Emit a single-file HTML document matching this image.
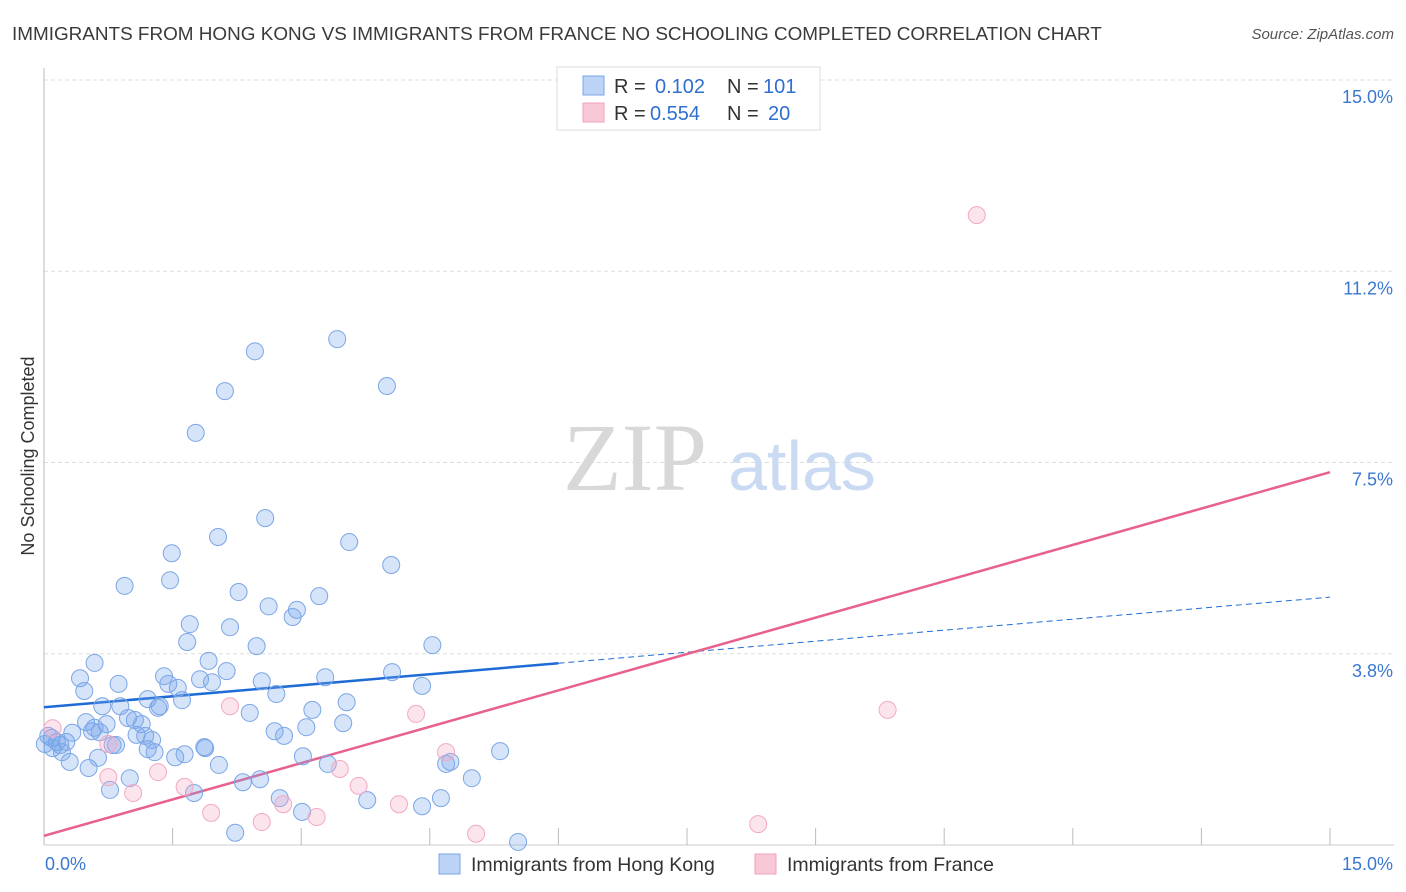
<!DOCTYPE html>
<html><head><meta charset="utf-8">
<style>
body{margin:0;background:#fff;font-family:"Liberation Sans",sans-serif;}
svg{display:block}
</style></head><body>
<svg id="chart" width="1406" height="892">
<text x="12" y="40" font-size="18.9" fill="#3a3a3a">IMMIGRANTS FROM HONG KONG VS IMMIGRANTS FROM FRANCE NO SCHOOLING COMPLETED CORRELATION CHART</text>
<text x="1394" y="39" font-size="15" fill="#555" font-style="italic" text-anchor="end">Source: ZipAtlas.com</text>
<text x="34" y="456" font-size="18" fill="#333" transform="rotate(-90 34 456)" text-anchor="middle">No Schooling Completed</text>
<g id="grid"></g>
<g>
<text x="635" y="490" font-size="96" font-family="Liberation Serif,serif" fill="#d8d8d8" text-anchor="middle">ZIP</text>
<text x="802" y="490" font-size="70" fill="#c9daf2" text-anchor="middle">atlas</text>
</g>
<g id="lines"></g>
<g id="points"></g>
<g>
<rect x="557" y="67" width="263" height="63" fill="#fff" stroke="#ddd"/>
<rect x="583" y="76" width="21" height="19" fill="#bcd3f5" stroke="#7aa5e8"/>
<rect x="583" y="103" width="21" height="19" fill="#f9c8d6" stroke="#f0a0bc"/>
<g font-size="20" fill="#333">
<text x="614" y="93">R =</text><text x="655" y="93" fill="#2f6fd0">0.102</text><text x="727" y="93">N =</text><text x="763" y="93" fill="#2f6fd0">101</text>
<text x="614" y="120">R =</text><text x="650" y="120" fill="#2f6fd0">0.554</text><text x="727" y="120">N =</text><text x="768" y="120" fill="#2f6fd0">20</text>
</g>
</g>
<g>
<rect x="439" y="854" width="21" height="20" fill="#bcd3f5" stroke="#7aa5e8"/>
<text x="471" y="871" font-size="19.5" fill="#333">Immigrants from Hong Kong</text>
<rect x="755" y="854" width="21" height="20" fill="#f9c8d6" stroke="#f0a0bc"/>
<text x="787" y="871" font-size="19.5" fill="#333">Immigrants from France</text>
</g>
</svg>
<script>
const yTicks=[3.75,7.5,11.25,15];
const yTickLabels=["3.8%","7.5%","11.2%","15.0%"];
const xTickLabels=["0.0%","15.0%"];
const hkX=[3.42,2.46,2.11,4.00,1.77,2.58,2.03,3.56,1.49,4.05,0.94,1.47,2.27,3.21,2.62,2.95,2.90,1.70,2.17,1.67,2.48,4.53,0.59,1.92,2.13,1.40,0.42,4.06,3.28,1.82,2.54,1.45,1.96,0.87,1.56,0.47,4.41,2.71,1.21,1.61,3.53,0.68,0.89,1.35,1.33,2.40,3.13,0.98,1.06,0.49,0.73,1.14,3.49,3.06,0.33,0.56,2.69,2.80,1.08,1.18,1.26,0.84,0.80,1.87,0.09,0.19,0.26,0.15,1.64,1.53,3.02,5.32,0.30,0.63,4.74,4.69,3.31,2.04,0.52,4.99,1.00,2.32,2.52,0.77,1.75,2.75,3.77,4.63,4.41,3.01,2.23,5.53,0.05,0.10,0.21,0.01,1.21,1.29,0.65,1.88,0.59];
const hkY=[9.92,9.68,8.90,9.00,8.08,6.41,6.04,5.94,5.72,5.49,5.08,5.19,4.96,4.88,4.68,4.61,4.47,4.33,4.27,3.98,3.90,3.92,3.57,3.61,3.41,3.31,3.27,3.39,3.29,3.25,3.21,3.16,3.19,3.16,3.08,3.02,3.12,2.96,2.86,2.84,2.80,2.72,2.72,2.72,2.69,2.59,2.65,2.49,2.45,2.41,2.37,2.37,2.39,2.31,2.20,2.23,2.23,2.14,2.16,2.14,2.06,1.96,1.96,1.92,2.10,1.96,2.02,2.02,1.78,1.72,1.74,1.84,1.63,1.71,1.63,1.59,1.59,1.57,1.51,1.31,1.31,1.23,1.29,1.08,1.02,0.92,0.88,0.92,0.76,0.65,0.24,0.06,2.14,1.90,1.82,1.98,1.88,1.82,2.21,1.90,2.30];
const frX=[10.88,9.84,2.17,4.34,0.10,0.75,4.69,1.33,3.45,0.75,1.04,1.64,3.67,4.14,1.95,2.79,3.18,2.54,5.04,8.33];
const frY=[12.35,2.65,2.72,2.57,2.29,1.98,1.82,1.43,1.49,1.33,1.02,1.14,1.16,0.80,0.63,0.80,0.55,0.45,0.22,0.41];
const hkLine=[2.70,4.86], hkSolidEnd=6.0;
const frLine=[0.18,7.31];
const NS="http://www.w3.org/2000/svg";
const X0=44,X1=1330,Y0=845,Y15=80;
const sx=v=>X0+(X1-X0)*v/15, sy=v=>Y0-(Y0-Y15)*v/15;
function mk(t,a,p){const e=document.createElementNS(NS,t);for(const k in a)e.setAttribute(k,a[k]);p.appendChild(e);return e;}
const grid=document.getElementById('grid');
yTicks.forEach((v,i)=>{
 const l=mk('line',{x1:X0,x2:1394,y1:sy(v),y2:sy(v),stroke:'#ddd','stroke-dasharray':'4,3'},grid);
 
 
 const t=mk('text',{x:1393,y:sy(v)+23,'font-size':18,fill:'#3a78d0','text-anchor':'end'},grid);
 t.textContent=yTickLabels[i];
 
 
});
mk('line',{x1:X0,x2:X0,y1:68,y2:Y0,stroke:'#bbb'},grid);
mk('line',{x1:X0,x2:1394,y1:Y0,y2:Y0,stroke:'#ccc'},grid);
for(let i=1;i<=10;i++){const x=sx(i*1.5);mk('line',{x1:x,x2:x,y1:828,y2:Y0,stroke:'#bbb'},grid);}
[[0,45,'start'],[15,1393,'end']].forEach((d,i)=>{
 const t=mk('text',{x:d[1],y:870,'font-size':18,fill:'#3a78d0','text-anchor':d[2]},grid);
 t.textContent=xTickLabels[i];
 
 
});
const pts=document.getElementById('points');
hkX.forEach((x,i)=>{
 const c=mk('circle',{cx:sx(x),cy:sy(hkY[i]),r:8.5,fill:'rgba(120,165,235,0.3)',stroke:'#7ba6e6','stroke-width':1},pts);
 
 
});
frX.forEach((x,i)=>{
 const c=mk('circle',{cx:sx(x),cy:sy(frY[i]),r:8.5,fill:'rgba(245,165,195,0.3)',stroke:'#f2a9c3','stroke-width':1},pts);
 
 
});
const ln=document.getElementById('lines');
const hy=x=>hkLine[0]+(hkLine[1]-hkLine[0])*x/15;
let a=mk('line',{x1:sx(0),y1:sy(hy(0)),x2:sx(hkSolidEnd),y2:sy(hy(hkSolidEnd)),stroke:'#1f6bd6','stroke-width':2.5},ln);


a=mk('line',{x1:sx(hkSolidEnd),y1:sy(hy(hkSolidEnd)),x2:sx(15),y2:sy(hy(15)),stroke:'#1f6bd6','stroke-width':1,'stroke-dasharray':'6,4'},ln);


a=mk('line',{x1:sx(0),y1:sy(frLine[0]),x2:sx(15),y2:sy(frLine[1]),stroke:'#e8608c','stroke-width':2.5},ln);


</script>
</body></html>
